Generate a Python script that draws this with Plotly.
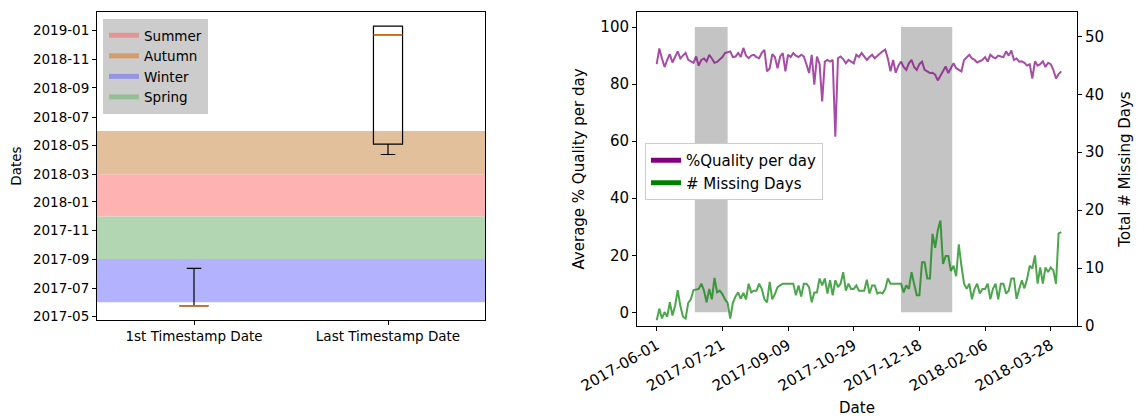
import pandas as pd
import plotly.graph_objects as go

# ---------------- Left panel data ----------------
season_names = ["Summer", "Autumn", "Winter", "Spring"]
season_start = ["2017-12-01", "2018-03-01", "2017-06-01", "2017-09-01"]
season_end = ["2018-03-01", "2018-06-01", "2017-09-01", "2017-12-01"]
season_band_colors = ["#ffb2b2", "#e2c09b", "#b2b2ff", "#b2d6b2"]
season_legend_colors = ["#e39494", "#d69c69", "#9494e3", "#94bf94"]

box_categories = ["1st Timestamp Date", "Last Timestamp Date"]
box_lower = ["2017-05-24", "2018-04-12"]
box_q1 = ["2017-05-24", "2018-05-04"]
box_median = ["2017-05-24", "2018-12-23"]
box_q3 = ["2017-05-24", "2019-01-11"]
box_upper = ["2017-08-12", "2019-01-11"]

# ---------------- Right panel data ----------------
series_start = "2017-06-01"
quality_values = [
    87.0, 92.5, 89.0, 86.0, 88.5, 90.5, 87.6, 89.5, 91.5, 89.0,
    90.0, 91.0, 88.5, 88.0, 87.5, 89.7, 86.5, 88.5, 89.0, 88.0,
    90.3, 89.0, 87.5, 87.8, 88.8, 89.5, 90.9, 91.2, 91.5, 89.5,
    89.7, 90.9, 89.5, 92.7, 90.0, 89.1, 90.0, 90.3, 89.5, 89.1,
    91.0, 92.0, 84.5, 85.5, 90.5, 89.5, 85.6, 89.7, 90.9, 84.5,
    90.3, 89.5, 90.9, 90.0, 89.5, 90.3, 89.7, 87.0, 83.9, 90.3,
    79.8, 89.7, 87.0, 73.9, 87.9, 88.5, 87.9, 88.5, 61.6, 89.1,
    89.7, 88.8, 87.3, 88.5, 88.0, 87.3, 90.3, 89.5, 90.9, 89.5,
    88.5, 89.5, 90.3, 89.1, 90.0, 90.9, 91.5, 92.1, 89.0, 84.5,
    88.5, 84.0, 86.5, 87.9, 86.0, 85.0, 87.3, 88.5, 86.0, 85.0,
    87.0, 87.9, 85.0, 84.5, 83.9, 84.0, 83.3, 81.3, 83.0, 84.5,
    86.2, 83.9, 85.5, 87.3, 85.6, 85.0, 84.5, 88.5, 89.5, 90.3,
    89.0, 88.5, 87.6, 88.0, 88.5, 89.5, 87.9, 90.3, 89.5, 89.1,
    90.0, 89.7, 89.5, 91.5, 90.0, 91.8, 88.5, 89.0, 87.9, 88.0,
    87.5, 86.5, 87.0, 82.0, 88.0, 86.5, 87.0, 88.0, 86.0, 87.5,
    87.0, 85.0, 82.0, 83.5, 84.5,
]
missing_values = [
    1.0, 3.0, 1.3, 2.4, 1.6, 4.1, 1.8, 3.5, 6.2, 3.5,
    1.6, 1.3, 4.0, 4.6, 6.2, 6.3, 6.4, 7.3, 6.1, 4.1,
    6.4, 4.6, 8.3, 5.8, 6.1, 5.5, 4.6, 4.0, 1.3, 4.0,
    5.1, 5.8, 4.7, 5.7, 4.6, 7.3, 5.8, 6.1, 6.1, 7.3,
    6.4, 4.6, 4.1, 7.6, 4.6, 5.5, 6.7, 7.0, 7.3, 7.3,
    7.3, 7.3, 7.3, 5.3, 7.0, 5.1, 7.3, 7.3, 6.7, 4.1,
    5.8, 5.8, 8.2, 7.0, 8.2, 5.6, 7.9, 5.3, 7.9, 6.7,
    7.3, 9.3, 6.1, 7.3, 6.4, 6.4, 7.0, 6.1, 6.1, 6.1,
    8.0, 5.6, 7.0, 7.0, 5.6, 5.8, 5.6, 6.4, 8.2, 7.3,
    7.3, 7.3, 7.3, 7.3, 5.8, 7.0, 6.4, 9.3, 7.3, 5.3,
    5.3, 11.0, 11.0, 8.2, 8.2, 15.9, 13.5, 16.5, 18.2, 10.7,
    12.1, 12.1, 9.5, 10.4, 8.6, 14.1, 10.4, 7.3, 6.4, 7.3,
    4.6, 6.4, 7.3, 5.6, 6.4, 6.4, 7.3, 4.6, 6.4, 7.3,
    4.6, 7.3, 7.3, 5.6, 6.1, 8.2, 8.2, 4.7, 6.4, 7.9,
    6.5, 8.1, 10.4, 9.9, 12.2, 7.3, 10.1, 7.3, 10.1, 9.3,
    10.1, 9.6, 7.3, 16.0, 16.2,
]
holiday_start = ["2017-06-30", "2017-12-04"]
holiday_end = ["2017-07-25", "2018-01-12"]
x_tick_start = "2017-06-01"
x_tick_step_days = 50

quality_dates = pd.date_range(series_start, periods=len(quality_values), freq="2D")
missing_dates = pd.date_range(series_start, periods=len(missing_values), freq="2D")

FONT = "DejaVu Sans"
LF = 13.5   # left panel font size
RF = 15     # right panel font size

fig = go.Figure()

for s0, s1, c in zip(season_start, season_end, season_band_colors):
    fig.add_shape(type="rect", xref="x domain", yref="y", x0=0, x1=1, y0=s0, y1=s1,
                  fillcolor=c, line=dict(width=0), layer="below")

for name, c in zip(season_names, season_legend_colors):
    fig.add_trace(go.Scatter(x=[None], y=[None], mode="lines", name=name,
                             line=dict(color=c, width=5), xaxis="x", yaxis="y",
                             legend="legend"))

fig.add_trace(go.Box(x=box_categories, q1=box_q1, median=box_median, q3=box_q3,
                     lowerfence=box_lower, upperfence=box_upper,
                     width=0.15, whiskerwidth=0.5, boxpoints=False,
                     line=dict(color="black", width=1.2), fillcolor="rgba(0,0,0,0)",
                     xaxis="x", yaxis="y", showlegend=False, hoverinfo="skip"))
fig.add_trace(go.Box(x=box_categories, q1=box_median, median=box_median, q3=box_median,
                     lowerfence=box_median, upperfence=box_median,
                     width=0.15, whiskerwidth=1.0, boxpoints=False,
                     line=dict(color="#ff7f0e", width=1.2), fillcolor="rgba(0,0,0,0)",
                     xaxis="x", yaxis="y", showlegend=False, hoverinfo="skip"))

for h0, h1 in zip(holiday_start, holiday_end):
    fig.add_shape(type="rect", xref="x2", yref="y2", x0=h0, x1=h1, y0=0, y1=100,
                  fillcolor="#c4c4c4", line=dict(width=0), layer="below")

fig.add_trace(go.Scatter(x=quality_dates, y=quality_values, mode="lines",
                         line=dict(color="rgba(128,0,128,0.7)", width=2),
                         xaxis="x2", yaxis="y2", showlegend=False, hoverinfo="skip"))
fig.add_trace(go.Scatter(x=missing_dates, y=missing_values, mode="lines",
                         line=dict(color="rgba(0,128,0,0.7)", width=2),
                         xaxis="x2", yaxis="y3", showlegend=False, hoverinfo="skip"))
fig.add_trace(go.Scatter(x=[None], y=[None], mode="lines", name="%Quality per day",
                         line=dict(color="purple", width=5), xaxis="x2", yaxis="y2",
                         legend="legend2"))
fig.add_trace(go.Scatter(x=[None], y=[None], mode="lines", name="# Missing Days",
                         line=dict(color="green", width=5), xaxis="x2", yaxis="y2",
                         legend="legend2"))

axis_common = dict(showline=True, linecolor="black", linewidth=1, showgrid=False,
                   zeroline=False, ticks="outside", ticklen=4, tickcolor="black",
                   automargin=False)

W, H = 1137, 417
fig.update_layout(
    width=W, height=H, margin=dict(l=0, r=0, t=0, b=0, autoexpand=False),
    paper_bgcolor="white", plot_bgcolor="white",
    font=dict(family=FONT, color="black"),
    boxmode="overlay",
    xaxis=dict(domain=[97 / W, 485 / W], anchor="y", type="category",
               range=[-0.5, 1.5], mirror=True, tickfont=dict(size=LF), **axis_common),
    yaxis=dict(domain=[1 - 320 / H, 1 - 12 / H], anchor="x", type="date",
               range=["2017-04-24", "2019-02-10"], tick0="2017-05-01", dtick="M2",
               tickformat="%Y-%m", mirror=True, tickfont=dict(size=LF),
               title=dict(text="Dates", font=dict(size=LF), standoff=8), **axis_common),
    xaxis2=dict(domain=[637 / W, 1077 / W], anchor="y2", type="date",
                range=["2017-05-17", "2018-04-17"], tick0=x_tick_start,
                dtick=x_tick_step_days * 86400000, tickformat="%Y-%m-%d", tickangle=-30,
                mirror=True, tickfont=dict(size=RF),
                title=dict(text="Date", font=dict(size=RF), standoff=10), **axis_common),
    yaxis2=dict(domain=[1 - 326 / H, 1 - 12 / H], anchor="x2", range=[-4.8, 105.3],
                dtick=20, tickfont=dict(size=RF),
                title=dict(text="Average % Quality per day", font=dict(size=RF), standoff=12),
                **axis_common),
    yaxis3=dict(overlaying="y2", anchor="x2", side="right", range=[0, 54.2], dtick=10,
                tickfont=dict(size=RF),
                title=dict(text="Total # Missing Days", font=dict(size=RF), standoff=16),
                **axis_common),
    legend=dict(x=103 / W, y=1 - 19 / H, xanchor="left", yanchor="top",
                bgcolor="#cccccc", bordercolor="#cccccc", borderwidth=1,
                font=dict(size=LF), itemwidth=30, tracegroupgap=0),
    legend2=dict(x=645 / W, y=1 - 143 / H, xanchor="left", yanchor="top",
                 bgcolor="white", bordercolor="#cccccc", borderwidth=1,
                 font=dict(size=RF), itemwidth=30, tracegroupgap=0),
)

fig.write_html("out.html")
